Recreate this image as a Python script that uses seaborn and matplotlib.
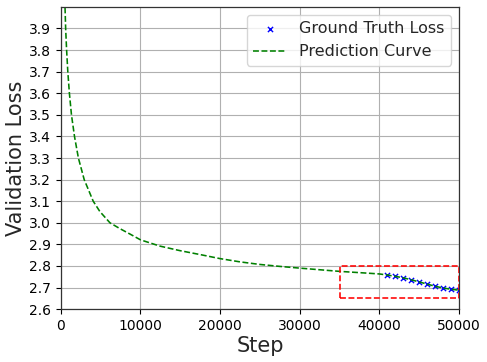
import matplotlib
matplotlib.use("Agg")
import matplotlib.pyplot as plt
import seaborn as sns
import pandas as pd
from matplotlib.patches import Rectangle

# ground truth validation loss (decay phase)
gt_steps = [41000, 42000, 43000, 44000, 45000, 46000, 47000, 48000, 49000, 50000]
gt_loss = [2.759, 2.752, 2.745, 2.736, 2.725, 2.715, 2.705, 2.697, 2.694, 2.691]

# predicted curve
pred_steps = [480, 520, 600, 720, 870, 1070, 1330, 1710, 2200, 2930, 4060, 4900,
              6160, 7410, 8670, 10000, 12440, 14950, 17460, 20000, 22490, 25000,
              27500, 30000, 35000, 38800, 40000, 41000, 42000, 43000, 44000,
              45000, 46000, 47000, 48000, 49000, 50000]
pred_loss = [4.05, 4.0, 3.9, 3.8, 3.7, 3.6, 3.5, 3.4, 3.3, 3.2, 3.1, 3.052,
             3.0, 2.973, 2.948, 2.921, 2.892, 2.871, 2.853, 2.834, 2.819, 2.807,
             2.798, 2.790, 2.775, 2.766, 2.763, 2.758, 2.752, 2.745, 2.736,
             2.726, 2.716, 2.706, 2.698, 2.692, 2.688]

yticks = [2.6, 2.7, 2.8, 2.9, 3.0, 3.1, 3.2, 3.3, 3.4, 3.5, 3.6, 3.7, 3.8, 3.9]
xticks = [0, 10000, 20000, 30000, 40000, 50000]

df_gt = pd.DataFrame({"Step": gt_steps, "Loss": gt_loss})
df_pred = pd.DataFrame({"Step": pred_steps, "Loss": pred_loss})

sns.set_theme(style="ticks")
plt.rcParams["font.family"] = ["DejaVu Sans"]

fig = plt.figure(figsize=(4.87, 3.62), dpi=100)
ax = fig.add_axes([0.125, 0.146, 0.8175, 0.835])

sns.scatterplot(data=df_gt, x="Step", y="Loss", marker="x", color="blue",
                s=14, linewidth=1.0, label="Ground Truth Loss", ax=ax)
sns.lineplot(data=df_pred, x="Step", y="Loss", color="green", linestyle="--",
             linewidth=1.15, label="Prediction Curve", ax=ax)

# zoom-in box around the decay region
ax.add_patch(Rectangle((35000, 2.65), 15000, 0.15, fill=False,
                       edgecolor="red", linestyle="--", linewidth=1.15, zorder=4))

ax.set_xlim(0, 50000)
ax.set_ylim(2.6, 4.0)
ax.set_xticks(xticks)
ax.set_yticks(yticks)
ax.tick_params(labelsize=10, length=3.5, width=0.8, colors="black")
for s in ax.spines.values():
    s.set_color("#333333")
    s.set_linewidth(0.9)
ax.grid(True, color="#b0b0b0", linewidth=0.8)
ax.set_xlabel("Step", fontsize=15, labelpad=2)
ax.set_ylabel("Validation Loss", fontsize=15, labelpad=2)

leg = ax.legend(loc="upper right", fontsize=11.5, frameon=True, handlelength=2.1)
leg.get_frame().set_edgecolor("#cccccc")

fig.savefig("out.png", dpi=100)
